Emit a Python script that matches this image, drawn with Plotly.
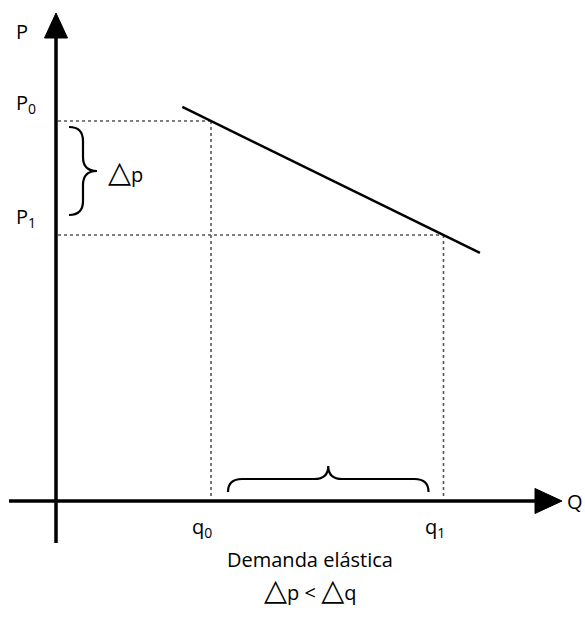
import plotly.graph_objects as go

# ---- data (economic units) ----
q_vals = [2, 5]          # q0, q1
p_vals = [10, 7]         # P0, P1
demand_q = [1.63, 5.47]  # demand line endpoints (quantity)
demand_p = [10.37, 6.53] # demand line endpoints (price)
q_labels = ["q<sub>0</sub>", "q<sub>1</sub>"]
p_labels = ["P<sub>0</sub>", "P<sub>1</sub>"]

W, H = 585, 620
OX, OY = 56, 501          # page-pixel position of origin
SX, SY = 77.5, 38.0       # pixels per unit


def dx(px):
    return px / SX


def dy(px):
    return px / SY


x_range = [-OX / SX, (W - OX) / SX]
y_range = [(OY - H) / SY, OY / SY]

FONT = "Open Sans, Noto Sans, sans-serif"
TRI = "<span style='font-family:DejaVu Sans;font-size:30px'>△</span>"

fig = go.Figure()

# axes
y_top_base, y_top_tip = dy(OY - 38), dy(OY - 13)
x_left = dx(9 - OX)
x_right_base, x_right_tip = dx(535 - OX), dx(562 - OX)

fig.add_trace(go.Scatter(x=[0, 0], y=[-dy(42), y_top_base + dy(1)], mode="lines",
                         line=dict(color="black", width=3.5), hoverinfo="skip"))
fig.add_trace(go.Scatter(x=[x_left, x_right_base + dx(1)], y=[0, 0], mode="lines",
                         line=dict(color="black", width=3.5), hoverinfo="skip"))
# arrowheads
fig.add_trace(go.Scatter(x=[-dx(11.5), dx(11.5), 0, -dx(11.5)],
                         y=[y_top_base, y_top_base, y_top_tip, y_top_base],
                         mode="lines", fill="toself", fillcolor="black",
                         line=dict(color="black", width=1), hoverinfo="skip"))
fig.add_trace(go.Scatter(x=[x_right_base, x_right_base, x_right_tip, x_right_base],
                         y=[dy(12.5), -dy(12.5), 0, dy(12.5)],
                         mode="lines", fill="toself", fillcolor="black",
                         line=dict(color="black", width=1), hoverinfo="skip"))

# dotted guide lines
dot = dict(color="#555555", width=1.6, dash="dot")
for q, p in zip(q_vals, p_vals):
    fig.add_trace(go.Scatter(x=[dx(2), q], y=[p, p], mode="lines", line=dot, hoverinfo="skip"))
    fig.add_trace(go.Scatter(x=[q, q], y=[p, dy(2)], mode="lines", line=dot, hoverinfo="skip"))

# demand line
fig.add_trace(go.Scatter(x=demand_q, y=demand_p, mode="lines",
                         line=dict(color="black", width=2.5), hoverinfo="skip"))

# braces
def vbrace(x0, xs, xt, ytop, ybot):
    ym = (ytop + ybot) / 2
    r = dy(14)
    return (f"M {x0},{ytop} Q {xs},{ytop} {xs},{ytop - r} "
            f"L {xs},{ym + r} Q {xs},{ym} {xt},{ym} "
            f"Q {xs},{ym} {xs},{ym - r} L {xs},{ybot + r} "
            f"Q {xs},{ybot} {x0},{ybot}")


def hbrace(y0, ys, yt, xl, xr):
    xm = (xl + xr) / 2
    r = dx(14)
    return (f"M {xl},{y0} Q {xl},{ys} {xl + r},{ys} "
            f"L {xm - r},{ys} Q {xm},{ys} {xm},{yt} "
            f"Q {xm},{ys} {xm + r},{ys} L {xr - r},{ys} "
            f"Q {xr},{ys} {xr},{y0}")


shapes = [
    dict(type="path", xref="x", yref="y",
         path=vbrace(dx(13), dx(27), dx(41), p_vals[0] - dy(6), p_vals[1] + dy(20)),
         line=dict(color="black", width=2.2)),
    dict(type="path", xref="x", yref="y",
         path=hbrace(dy(9), dy(22), dy(35), q_vals[0] + dx(17), q_vals[1] - dx(15)),
         line=dict(color="black", width=2.2)),
]

ann = []
base = dict(showarrow=False, font=dict(family=FONT, size=20, color="black"))
ann.append(dict(x=dx(22 - OX), y=dy(OY - 31), text="P", xanchor="center", yanchor="middle", **base))
for p, lab in zip(p_vals, p_labels):
    ann.append(dict(x=dx(14 - OX), y=p + dy(18), text=lab, xanchor="left", yanchor="middle", **base))
for q, lab in zip(q_vals, q_labels):
    ann.append(dict(x=q - dx(9), y=-dy(26), text=lab, xanchor="center", yanchor="middle", **base))
ann.append(dict(x=dx(565 - OX), y=0, text="Q", xanchor="left", yanchor="middle", **base))
ann.append(dict(x=dx(106 - OX), y=dy(OY - 171), text=TRI + "p", xanchor="left", yanchor="middle", **base))
ann.append(dict(x=dx(310 - OX), y=dy(OY - 559), text="Demanda elástica", xanchor="center",
                yanchor="middle", showarrow=False, font=dict(family=FONT, size=20, color="black")))
ann.append(dict(x=dx(310 - OX), y=dy(OY - 589), text=TRI + "p < " + TRI + "q", xanchor="center",
                yanchor="middle", showarrow=False, font=dict(family=FONT, size=20, color="black")))

fig.update_layout(
    width=W, height=H, margin=dict(l=0, r=0, t=0, b=0),
    paper_bgcolor="white", plot_bgcolor="white", showlegend=False,
    xaxis=dict(range=x_range, visible=False, fixedrange=True),
    yaxis=dict(range=y_range, visible=False, fixedrange=True),
    shapes=shapes, annotations=ann,
)

fig.write_html("out.html", config={"displayModeBar": False},
               post_script="document.body.style.margin='0';document.body.style.overflow='hidden';")
